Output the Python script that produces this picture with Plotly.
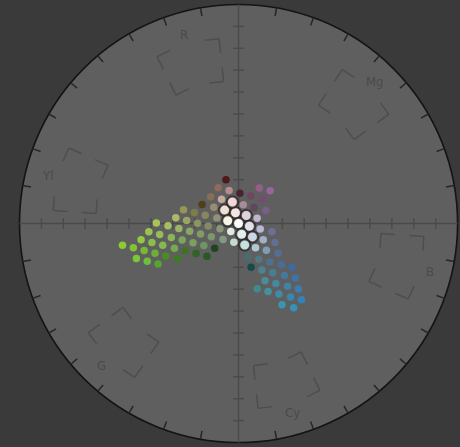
import math
import plotly.graph_objects as go

# ---------------- graticule definition ----------------
TARGET_NAMES = ["R", "Mg", "B", "Cy", "G", "Yl"]
TARGET_ANGLES = [106, 46, 346, 286, 226, 166]          # degrees, CCW from +U
PRIMARY_ANGLE = {"R": 106, "G": 226, "B": 346}
SCALE_TICKS = [10, 20, 30, 40, 50, 60, 70, 80, 90]     # axis ticks (scope units)
RIM_TICK_ANGLES = [a for a in range(10, 360, 10) if a % 90 != 0]

# ---------------- pixel colours of the analysed image ----------------
pix_r = [139, 129, 119, 109, 74, 59,
         121, 111, 86,
         147, 137, 132, 117, 62, 47, 37,
         155, 150, 140, 125, 120, 110, 30,
         169, 164, 154, 139, 129, 124, 129,
         172, 152, 137, 127, 137,
         150, 125, 135, 145,
         78, 153, 136, 196, 166, 96, 121, 145, 180, 75, 110, 115, 78, 148, 153,
         193, 185, 110, 162, 97, 174, 129, 84, 194, 222,
         70, 80, 75, 70, 65,
         22, 77, 72, 67, 62,
         74, 69, 64, 59,
         61, 66, 61, 56, 51,
         58, 53,
         238, 243, 223, 245, 250, 225, 225, 202, 241, 199]
pix_g = [205, 195, 185, 175, 140, 125,
         200, 190, 165,
         200, 190, 185, 170, 115, 100, 90,
         195, 190, 180, 165, 160, 150, 70,
         195, 190, 180, 165, 155, 150, 155,
         185, 165, 150, 140, 150,
         150, 125, 135, 145,
         65, 140, 110, 170, 140, 70, 95, 105, 140, 35, 70, 75, 25, 95, 100,
         180, 185, 110, 175, 110, 200, 155, 110, 220, 235,
         110, 120, 115, 110, 105,
         75, 130, 125, 120, 115,
         140, 135, 130, 125,
         140, 145, 140, 135, 130,
         150, 145,
         225, 230, 210, 245, 250, 225, 238, 215, 215, 225]
pix_b = [47, 50, 53, 56, 34, 33,
         55, 58, 46,
         68, 71, 79, 78, 36, 34, 37,
         76, 84, 88, 86, 94, 97, 30,
         89, 98, 101, 99, 102, 110, 129,
         106, 99, 97, 100, 124,
         84, 72, 95, 119,
         25, 114, 84, 157, 153, 96, 135, 92, 140, 48, 96, 115, 25, 135, 153,
         206, 211, 150, 201, 150, 213, 181, 150, 207, 222,
         110, 133, 141, 150, 158,
         75, 143, 151, 160, 168,
         153, 161, 170, 178,
         140, 158, 166, 175, 183,
         176, 185,
         212, 230, 223, 232, 250, 238, 238, 228, 215, 225]
# how many image pixels fall on each point (1 = sparse, 3 = dense highlight)
pix_hits = [1] * 85 + [3] * 10

# ---------------- scope transform ----------------
K = 100.0 / 255.0


def scope_xy(r, g, b):
    u = v = 0.0
    for val, key in ((r, "R"), (g, "G"), (b, "B")):
        a = math.radians(PRIMARY_ANGLE[key])
        u += K * val * math.cos(a)
        v += K * val * math.sin(a)
    return u, v


pts = [scope_xy(r, g, b) for r, g, b in zip(pix_r, pix_g, pix_b)]
cols = ["rgb(%d,%d,%d)" % c for c in zip(pix_r, pix_g, pix_b)]

BG = "#3a3a3a"
FACE = "#5f5f5f"
RIM = "#141414"
CROSS = "#4a4a4a"
RIMTICK = "#262626"
BOX = "#4e4e4e"
LABEL = "#4a4a4a"

fig = go.Figure()


def add_segments(segs, color, width):
    xs, ys = [], []
    for (x0, y0, x1, y1) in segs:
        xs += [x0, x1, None]
        ys += [y0, y1, None]
    fig.add_trace(go.Scatter(x=xs, y=ys, mode="lines",
                             line=dict(color=color, width=width),
                             hoverinfo="skip", showlegend=False))


# cross hair and its scale ticks
cross = [(-100, 0, 100, 0), (0, -100, 0, 100)]
for t in SCALE_TICKS:
    for s in (1, -1):
        cross.append((s * t, -2.4, s * t, 2.4))
        cross.append((-2.4, s * t, 2.4, s * t))
add_segments(cross, CROSS, 1.4)

# rim ticks
rim = []
for a in RIM_TICK_ANGLES:
    ra = math.radians(a)
    rim.append((100 * math.cos(ra), 100 * math.sin(ra),
                96.2 * math.cos(ra), 96.2 * math.sin(ra)))
add_segments(rim, RIMTICK, 1.5)

# target boxes (corner brackets of an annular sector)
R1, R2, ARM, HALF = 65.2, 84.8, 6.5, 10
box = []
for ang in TARGET_ANGLES:
    for th, tdir in ((ang - HALF, 1), (ang + HALF, -1)):
        t = math.radians(th)
        c, s = math.cos(t), math.sin(t)
        for rr, rdir in ((R1, 1), (R2, -1)):
            px, py = rr * c, rr * s
            box.append((px, py, (rr + rdir * ARM) * c, (rr + rdir * ARM) * s))
            box.append((px, py, px - tdir * ARM * s, py + tdir * ARM * c))
add_segments(box, BOX, 1.5)

# labels
for name, ang in zip(TARGET_NAMES, TARGET_ANGLES):
    t = math.radians(ang)
    fig.add_annotation(x=90 * math.cos(t), y=90 * math.sin(t), text=name,
                       showarrow=False,
                       font=dict(family="DejaVu Sans Condensed, Liberation Sans Narrow, sans-serif",
                                 size=13, color=LABEL))

# plotted pixels
sparse = [i for i, h in enumerate(pix_hits) if h < 2]
dense = [i for i, h in enumerate(pix_hits) if h >= 2]
fig.add_trace(go.Scatter(x=[pts[i][0] for i in sparse], y=[pts[i][1] for i in sparse],
                         mode="markers",
                         marker=dict(size=7.5, color=[cols[i] for i in sparse], line=dict(width=0)),
                         hoverinfo="skip", showlegend=False))
fig.add_trace(go.Scatter(x=[pts[i][0] for i in dense], y=[pts[i][1] for i in dense],
                         mode="markers",
                         marker=dict(size=11, color=[cols[i] for i in dense],
                                     line=dict(width=2, color="rgba(35,28,28,0.75)")),
                         hoverinfo="skip", showlegend=False))

fig.add_shape(type="circle", xref="x", yref="y", x0=-100, y0=-100, x1=100, y1=100,
              fillcolor=FACE, line=dict(color=RIM, width=1.6), layer="below")

fig.update_layout(
    width=460, height=447, margin=dict(l=0, r=0, t=0, b=0),
    paper_bgcolor=BG, plot_bgcolor=BG,
    xaxis=dict(range=[-108.9, 101.1], visible=False, showgrid=False, zeroline=False),
    yaxis=dict(range=[-102.05, 102.05], visible=False, showgrid=False, zeroline=False),
    showlegend=False,
)

fig.write_html("out.html", config={"displayModeBar": False})
